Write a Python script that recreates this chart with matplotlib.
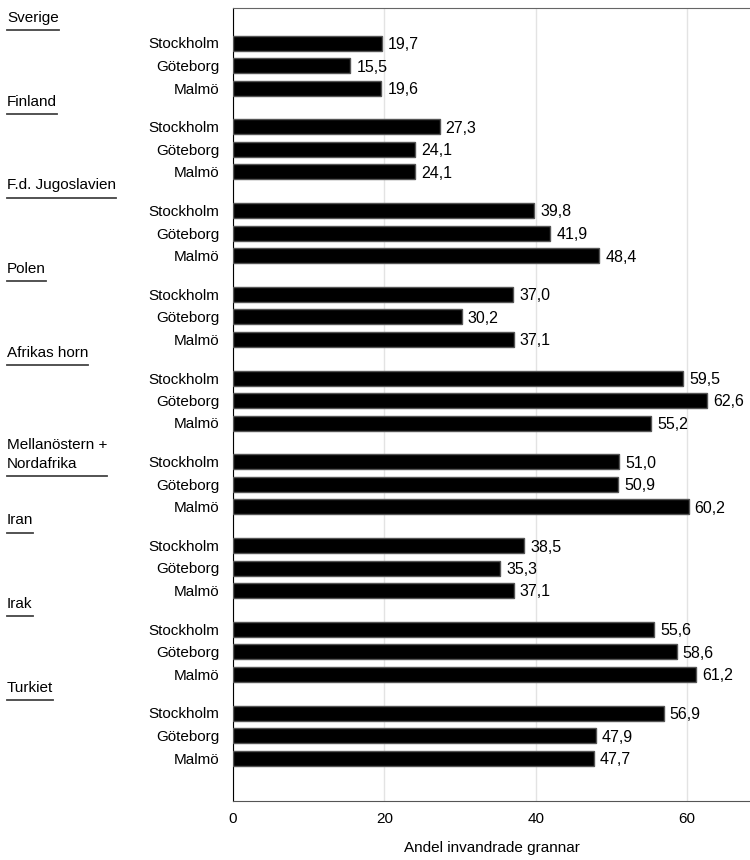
import matplotlib.pyplot as plt
import matplotlib.transforms as mtransforms
from matplotlib.lines import Line2D

plt.rcParams['font.family'] = ['Liberation Sans', 'DejaVu Sans']

# data
groups = ["Sverige", "Finland", "F.d. Jugoslavien", "Polen", "Afrikas horn",
          "Mellanöstern +\nNordafrika", "Iran", "Irak", "Turkiet"]
cities = ["Stockholm", "Göteborg", "Malmö"]
stockholm = [19.7, 27.3, 39.8, 37.0, 59.5, 51.0, 38.5, 55.6, 56.9]
goteborg = [15.5, 24.1, 41.9, 30.2, 62.6, 50.9, 35.3, 58.6, 47.9]
malmo = [19.6, 24.1, 48.4, 37.1, 55.2, 60.2, 37.1, 61.2, 47.7]

FS = 11

fig = plt.figure(figsize=(7.5, 8.6), dpi=100)
ax = fig.add_axes([233 / 750, 1 - 801 / 860, 1 - 233 / 750, (801 - 8) / 860])

# layout in pixel-like units (y grows downward)
first = 43
group_step = 83.75
row_step = 22.5

ypos = []
vals = []
labels = []
for g in range(len(groups)):
    for k, series in enumerate([stockholm, goteborg, malmo]):
        ypos.append(first + g * group_step + k * row_step)
        vals.append(series[g])
        labels.append(cities[k])

ax.barh(ypos, vals, height=15, color="black", edgecolor="#555555", linewidth=1, zorder=3)
for y, v in zip(ypos, vals):
    ax.text(v + 0.8, y + 1.5, f"{v:.1f}".replace(".", ","), va="center", ha="left",
            fontsize=11.5, zorder=4)

ax.set_ylim(801, 8)
ax.set_xlim(0, 68.3)
ax.set_yticks(ypos)
ax.set_yticklabels(labels, fontsize=FS)
ax.set_xticks([0, 20, 40, 60])
ax.set_xticklabels(["0", "20", "40", "60"], fontsize=FS)
ax.tick_params(axis="both", length=0)
ax.tick_params(axis="y", pad=10)
ax.tick_params(axis="x", pad=8)
ax.xaxis.grid(True, color="#e3e3e3", linewidth=1, zorder=0)
ax.set_axisbelow(True)
ax.spines["right"].set_visible(False)
ax.spines["left"].set_color("black")
ax.spines["top"].set_color("#666666")
ax.spines["bottom"].set_color("#555555")
ax.set_xlabel("Andel invandrade grannar", fontsize=FS, labelpad=11)

# group headers with underline
trans = mtransforms.blended_transform_factory(fig.transFigure, ax.transData)
header_texts = []
for g, name in enumerate(groups):
    s = first + g * group_step
    if "\n" in name:
        t = ax.text(7 / 750, s + 9, name, transform=trans, ha="left", va="bottom",
                    fontsize=FS, linespacing=1.45)
    else:
        t = ax.text(7 / 750, s - 18, name, transform=trans, ha="left", va="bottom",
                    fontsize=FS)
    header_texts.append(t)

fig.canvas.draw()
renderer = fig.canvas.get_renderer()
for t in header_texts:
    bb = t.get_window_extent(renderer)
    x0, x1 = bb.x0 / 750, bb.x1 / 750
    yl = (bb.y0 - 5) / 860
    fig.add_artist(Line2D([x0, x1], [yl, yl], color="#444444", linewidth=1.3,
                          transform=fig.transFigure))

fig.savefig("out.png", dpi=100)
